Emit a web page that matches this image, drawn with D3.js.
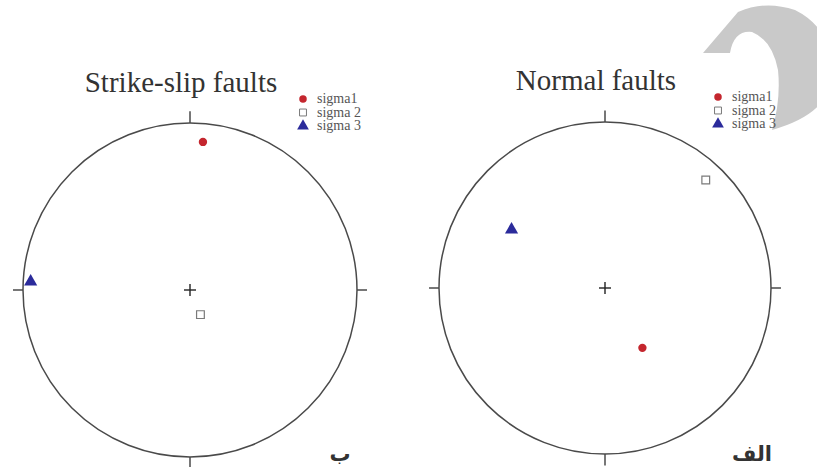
<!DOCTYPE html>
<html>
<head>
<meta charset="utf-8">
<script src="https://cdn.jsdelivr.net/npm/d3@7"></script>
<style>
  body { margin: 0; background: #fff; }
  svg { display: block; }
</style>
</head>
<body>
<svg id="chart" width="817" height="467"></svg>
<script>
// principal stress axes: trend / plunge in degrees
var panels = ["Strike-slip faults", "Normal faults"];
var panelLabels = ["ب", "الف"];
var axisNames = ["sigma1", "sigma 2", "sigma 3"];
var strikeSlipTrend = [5, 157, 273];
var strikeSlipPlunge = [12, 77, 5];
var normalTrend = [148, 43, 302];
var normalPlunge = [55, 12, 34];

var svg = d3.select("#chart");

var nets = [
  {cx: 190, cy: 290, r: 167, trend: strikeSlipTrend, plunge: strikeSlipPlunge,
   titleX: 181, titleY: 92, legX: 303, legY: 99, labX: 340, labY: 461},
  {cx: 605, cy: 288, r: 166, trend: normalTrend, plunge: normalPlunge,
   titleX: 596, titleY: 90, legX: 718, legY: 97, labX: 752, labY: 461}
];

// decorative grey arrow in the corner
svg.append("path")
  .attr("d", "M703,53 L738,12 Q765,0 795,10 Q835,30 832,80 Q826,115 772,130 Q781,100 778,70 Q772,40 752,32 Q734,30 730,53 Z")
  .attr("fill", "#c9c9c9");

function project(trend, plunge) {
  // lower-hemisphere equal-area (Schmidt) projection, unit radius
  var t = trend * Math.PI / 180;
  var rho = Math.SQRT2 * Math.sin((90 - plunge) * Math.PI / 360);
  return [rho * Math.sin(t), rho * Math.cos(t)];
}

var symbols = [d3.symbolCircle, d3.symbolSquare, d3.symbolTriangle];
var sizes = [55, 60, 75];
var fills = ["#c4262e", "#fff", "#2b2b9b"];
var strokes = ["none", "#7a7a7a", "none"];

nets.forEach(function(n, k) {
  var g = svg.append("g");
  var x = d3.scaleLinear().domain([-1, 1]).range([n.cx - n.r, n.cx + n.r]);
  var y = d3.scaleLinear().domain([-1, 1]).range([n.cy + n.r, n.cy - n.r]);

  g.append("circle")
    .attr("cx", x(0)).attr("cy", y(0)).attr("r", n.r)
    .attr("fill", "none").attr("stroke", "#4a4a4a").attr("stroke-width", 1.5);

  // N E S W ticks
  [[0, 1], [1, 0], [0, -1], [-1, 0]].forEach(function(d) {
    g.append("line")
      .attr("x1", x(d[0])).attr("y1", y(d[1]))
      .attr("x2", x(d[0] * 1.06)).attr("y2", y(d[1] * 1.07))
      .attr("stroke", "#4a4a4a").attr("stroke-width", 1.5);
  });

  // centre cross
  g.append("line").attr("x1", x(0) - 6).attr("x2", x(0) + 6)
    .attr("y1", y(0)).attr("y2", y(0)).attr("stroke", "#222").attr("stroke-width", 1.4);
  g.append("line").attr("x1", x(0)).attr("x2", x(0))
    .attr("y1", y(0) - 6).attr("y2", y(0) + 6).attr("stroke", "#222").attr("stroke-width", 1.4);

  g.append("text")
    .attr("x", n.titleX).attr("y", n.titleY)
    .attr("text-anchor", "middle")
    .attr("font-family", "Liberation Serif, serif")
    .attr("font-size", 29).attr("fill", "#333")
    .text(panels[k]);

  var pts = n.trend.map(function(t, i) { return project(t, n.plunge[i]); });
  g.selectAll(".pt").data(pts).enter().append("path")
    .attr("class", "pt")
    .attr("transform", function(d) { return "translate(" + x(d[0]) + "," + y(d[1]) + ")"; })
    .attr("d", function(d, i) { return d3.symbol().type(symbols[i]).size(sizes[i])(); })
    .attr("fill", function(d, i) { return fills[i]; })
    .attr("stroke", function(d, i) { return strokes[i]; })
    .attr("stroke-width", 1.2);

  // legend
  var leg = g.append("g").attr("transform", "translate(" + n.legX + "," + n.legY + ")");
  axisNames.forEach(function(name, i) {
    leg.append("path")
      .attr("transform", "translate(0," + (i * 13.5) + ")")
      .attr("d", d3.symbol().type(symbols[i]).size(sizes[i] * 0.8)())
      .attr("fill", fills[i]).attr("stroke", strokes[i]).attr("stroke-width", 1);
    leg.append("text")
      .attr("x", 14).attr("y", i * 13.5 + 4)
      .attr("font-family", "Liberation Serif, serif")
      .attr("font-size", 14).attr("fill", "#555")
      .text(name);
  });

  g.append("text")
    .attr("x", n.labX).attr("y", n.labY)
    .attr("text-anchor", "middle")
    .attr("font-family", "DejaVu Sans, sans-serif")
    .attr("font-weight", "bold")
    .attr("font-size", 21).attr("fill", "#333")
    .text(panelLabels[k]);
});
</script>
</body>
</html>
